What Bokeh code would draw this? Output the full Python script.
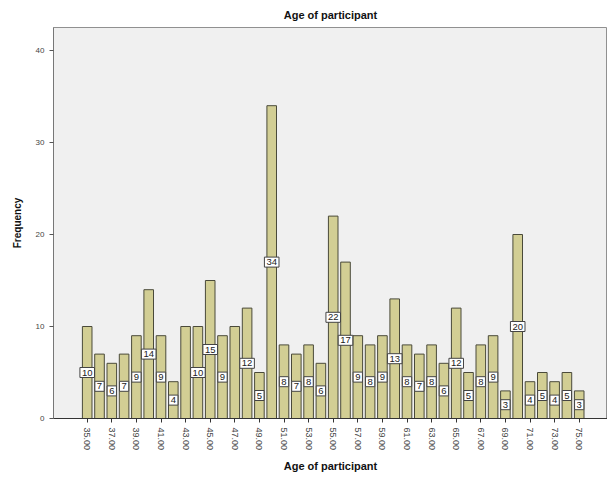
import math
from bokeh.plotting import figure
from bokeh.models import ColumnDataSource, Range1d, FixedTicker
from bokeh.core.properties import value
from bokeh.embed import file_html
from bokeh.resources import INLINE

# ---- data ----
ages = list(range(35, 76))
freqs = [10, 7, 6, 7, 9, 14, 9, 4, 10, 10, 15, 9, 10, 12, 5,
         34, 8, 7, 8, 6, 22, 17, 9, 8, 9, 13, 8, 7, 8, 6,
         12, 5, 8, 9, 3, 20, 4, 5, 4, 5, 3]
label_shown = [True] * 41
label_shown[8] = False
label_shown[12] = False
tick_ages = ages[::2]
tick_labels = {a: f"{a:.2f}" for a in tick_ages}
y_ticks = [0, 10, 20, 30, 40]

FONT = "Liberation Sans"

p = figure(width=607, height=476, output_backend="svg", toolbar_location=None,
           x_range=Range1d(32.26, 77.3), y_range=Range1d(0, 42.5),
           min_border_left=53, min_border_right=0, min_border_top=27,
           min_border_bottom=58)
p.background_fill_color = "#F0F0F0"
p.border_fill_color = "white"
p.outline_line_color = "#909090"
p.outline_line_width = 1
p.grid.visible = False

p.title.text = "Age of participant"
p.title.align = "center"
p.title.text_font = FONT
p.title.text_font_size = "11px"
p.title.text_font_style = "bold"
p.title.text_color = "#111111"
p.title.offset = 0
p.title.standoff = 13

src = ColumnDataSource(dict(x=ages, top=freqs))
p.vbar(x="x", top="top", width=0.78, source=src,
       fill_color="#D2CE94", line_color="#4A4A3A", line_width=1)

lx = [a for a, s in zip(ages, label_shown) if s]
lf = [f for f, s in zip(freqs, label_shown) if s]
lsrc = ColumnDataSource(dict(x=lx, y=[f / 2 for f in lf], t=[str(f) for f in lf]))
p.text(x="x", y="y", text="t", source=lsrc, text_align="center",
       text_baseline="middle", text_font=value(FONT), text_font_size="9.5px",
       text_color="#222222", background_fill_color="white",
       border_line_color="#444444", border_line_width=1, padding=2)

# axes
xa = p.xaxis[0]
xa.ticker = FixedTicker(ticks=tick_ages)
xa.major_label_overrides = tick_labels
xa.major_label_orientation = -math.pi / 2
xa.major_label_text_font = FONT
xa.major_label_text_font_size = "9px"
xa.major_label_text_color = "#444444"
xa.major_label_standoff = 5
xa.minor_tick_line_color = None
xa.major_tick_in = 0
xa.major_tick_out = 4
xa.major_tick_line_color = "#333333"
xa.axis_line_color = "#333333"
xa.axis_label = "Age of participant"
xa.axis_label_text_font = FONT
xa.axis_label_text_font_size = "11px"
xa.axis_label_text_font_style = "bold"
xa.axis_label_text_color = "#111111"
xa.axis_label_standoff = 7

ya = p.yaxis[0]
ya.ticker = FixedTicker(ticks=y_ticks)
ya.major_label_text_font = FONT
ya.major_label_text_font_size = "8px"
ya.major_label_text_color = "#444444"
ya.minor_tick_line_color = None
ya.major_tick_in = 0
ya.major_tick_out = 4
ya.major_tick_line_color = "#555555"
ya.axis_line_color = "#777777"
ya.axis_label = "Frequency"
ya.axis_label_text_font = FONT
ya.axis_label_text_font_size = "10px"
ya.axis_label_text_font_style = "bold"
ya.axis_label_text_color = "#111111"
ya.axis_label_standoff = 10

open("out.html", "w").write(file_html(p, INLINE))
